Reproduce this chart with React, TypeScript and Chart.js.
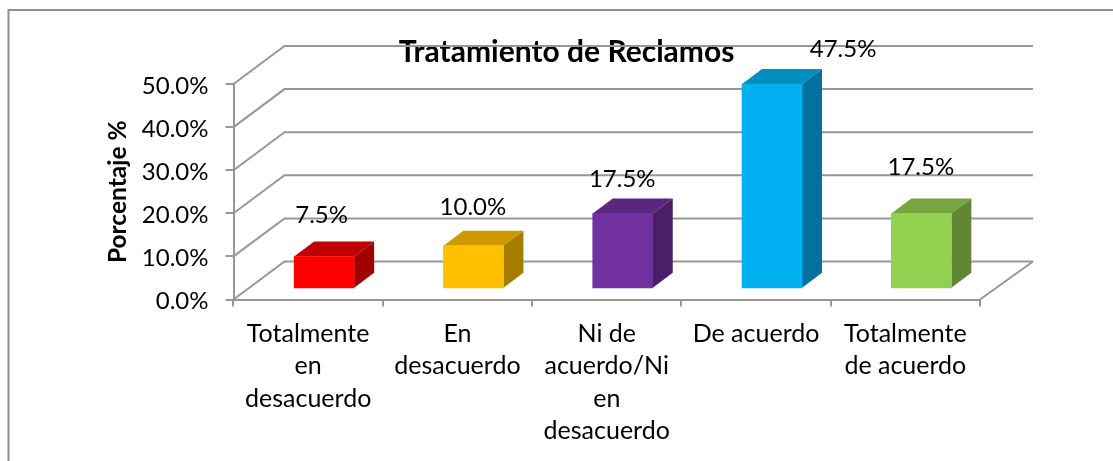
import React, { useEffect, useRef } from "react";
import { Chart, registerables } from "chart.js";

Chart.register(...registerables);

const categories: string[][] = [
  ["Totalmente", "en", "desacuerdo"],
  ["En", "desacuerdo"],
  ["Ni de", "acuerdo/Ni", "en", "desacuerdo"],
  ["De acuerdo"],
  ["Totalmente", "de acuerdo"],
];
const values: number[] = [7.5, 10.0, 17.5, 47.5, 17.5];
const faceColors: string[] = ["#FF0000", "#FFC000", "#7030A0", "#00B0F0", "#92D050"];
const topColors: string[] = ["#C00000", "#CC9A00", "#5A2680", "#008DC0", "#75A640"];
const sideColors: string[] = ["#A00000", "#A67D00", "#491F68", "#00729C", "#5F8734"];
const labelShiftX: number[] = [-2.5, -0.5, -0.5, 71, -0.5];
const labelShiftY: number[] = [-41, -38, -34.5, -35, -46];

const FONT = "Lato, Carlito, Calibri, sans-serif";
const TICK_SIZE = 24;
const GRID = "#979797";
const WALL_DX = 51;
const WALL_DY = -38;
const BAR_DX = 16;
const BAR_DY = -10.7;
const DEPTH_X = 20;
const DEPTH_Y = -15;

const frame3d = {
  id: "frame3d",
  beforeDraw(chart: any) {
    const { ctx, width, height } = chart;
    ctx.save();
    ctx.fillStyle = "#fff";
    ctx.fillRect(0, 0, width, height);
    ctx.strokeStyle = "#8f8f8f";
    ctx.lineWidth = 2;
    ctx.beginPath();
    ctx.moveTo(8.5, height);
    ctx.lineTo(8.5, 10);
    ctx.lineTo(width, 10);
    ctx.stroke();
    ctx.restore();
  },
  beforeDatasetsDraw(chart: any) {
    const { ctx, chartArea, scales } = chart;
    const { left, right, bottom } = chartArea;
    ctx.save();
    ctx.strokeStyle = GRID;
    ctx.lineWidth = 2;
    for (const t of scales.y.ticks) {
      const y = scales.y.getPixelForValue(t.value);
      ctx.beginPath();
      ctx.moveTo(left, y);
      ctx.lineTo(left + WALL_DX, y + WALL_DY);
      ctx.lineTo(right + WALL_DX + 2, y + WALL_DY);
      ctx.stroke();
    }
    ctx.beginPath();
    ctx.moveTo(right, bottom);
    ctx.lineTo(right + WALL_DX + 2, bottom + WALL_DY);
    ctx.stroke();
    ctx.restore();

    const meta = chart.getDatasetMeta(0);
    ctx.save();
    ctx.translate(BAR_DX, BAR_DY);
    meta.data.forEach((bar: any, i: number) => {
      const x0 = bar.x - bar.width / 2;
      const x1 = bar.x + bar.width / 2;
      ctx.fillStyle = topColors[i];
      ctx.beginPath();
      ctx.moveTo(x0, bar.y);
      ctx.lineTo(x0 + DEPTH_X, bar.y + DEPTH_Y);
      ctx.lineTo(x1 + DEPTH_X, bar.y + DEPTH_Y);
      ctx.lineTo(x1, bar.y);
      ctx.closePath();
      ctx.fill();
      ctx.fillStyle = sideColors[i];
      ctx.beginPath();
      ctx.moveTo(x1, bar.y);
      ctx.lineTo(x1 + DEPTH_X, bar.y + DEPTH_Y);
      ctx.lineTo(x1 + DEPTH_X, bar.base + DEPTH_Y);
      ctx.lineTo(x1, bar.base);
      ctx.closePath();
      ctx.fill();
    });
    ctx.restore();
  },
  beforeDatasetDraw(chart: any) {
    chart.ctx.save();
    chart.ctx.translate(BAR_DX, BAR_DY);
  },
  afterDatasetDraw(chart: any) {
    chart.ctx.restore();
  },
  afterDatasetsDraw(chart: any) {
    const { ctx } = chart;
    const meta = chart.getDatasetMeta(0);
    ctx.save();
    ctx.font = `${TICK_SIZE}px ${FONT}`;
    ctx.fillStyle = "#000";
    ctx.textAlign = "center";
    ctx.textBaseline = "middle";
    meta.data.forEach((bar: any, i: number) => {
      ctx.fillText(
        values[i].toFixed(1) + "%",
        bar.x + BAR_DX + labelShiftX[i],
        bar.y + BAR_DY + labelShiftY[i]
      );
    });
    ctx.restore();
  },
};

export default function App() {
  const ref = useRef<HTMLCanvasElement>(null);
  useEffect(() => {
    const chart = new Chart(ref.current!, {
      type: "bar",
      data: {
        labels: categories as any,
        datasets: [
          {
            label: "Porcentaje",
            data: values,
            backgroundColor: faceColors,
            borderWidth: 0,
            barThickness: 60,
            clip: false as any,
          },
        ],
      },
      plugins: [frame3d],
      options: {
        responsive: false,
        animation: false,
        layout: { padding: { left: 20, right: 0, top: 0, bottom: 0 } },
        plugins: {
          legend: { display: false },
          tooltip: { enabled: false },
          title: {
            display: true,
            text: "Tratamiento de Reclamos",
            color: "#000",
            font: { family: FONT, size: 30, weight: "bold", lineHeight: 1.2 },
            padding: { top: 34, bottom: 14 },
          },
        },
        scales: {
          x: {
            grid: { drawOnChartArea: false, color: GRID, lineWidth: 2, tickLength: 7, offset: true },
            border: { display: true, color: GRID, width: 2 },
            ticks: {
              color: "#000",
              font: { family: FONT, size: 25, lineHeight: 1.3 },
              autoSkip: false,
              maxRotation: 0,
              minRotation: 0,
              padding: 11,
            },
            afterFit(scale: any) {
              scale.height = 161.5;
            },
          },
          y: {
            min: 0,
            max: 50,
            grid: { drawOnChartArea: false, color: GRID, lineWidth: 2, tickLength: 8 },
            border: { display: true, color: GRID, width: 2 },
            ticks: {
              stepSize: 10,
              color: "#000",
              font: { family: FONT, size: TICK_SIZE },
              padding: 17,
              labelOffset: 2,
              callback: (v: any) => Number(v).toFixed(1) + "%",
            },
            title: {
              display: true,
              text: "Porcentaje %",
              color: "#000",
              font: { family: FONT, size: 24.5, weight: "bold", lineHeight: 1.2 },
              padding: { top: 83, bottom: 0 },
            },
            afterFit(scale: any) {
              scale.width = 213.5;
            },
          },
          gutter: {
            position: "right",
            display: true,
            grid: { display: false },
            border: { display: false },
            ticks: { display: false },
            afterFit(scale: any) {
              scale.width = 133;
            },
          },
        },
      },
    } as any);
    return () => chart.destroy();
  }, []);
  return (
    <div style={{ position: "absolute", left: 0, top: 0, width: 1113, height: 461 }}>
      <canvas ref={ref} width={1113} height={461} style={{ display: "block" }} />
    </div>
  );
}
